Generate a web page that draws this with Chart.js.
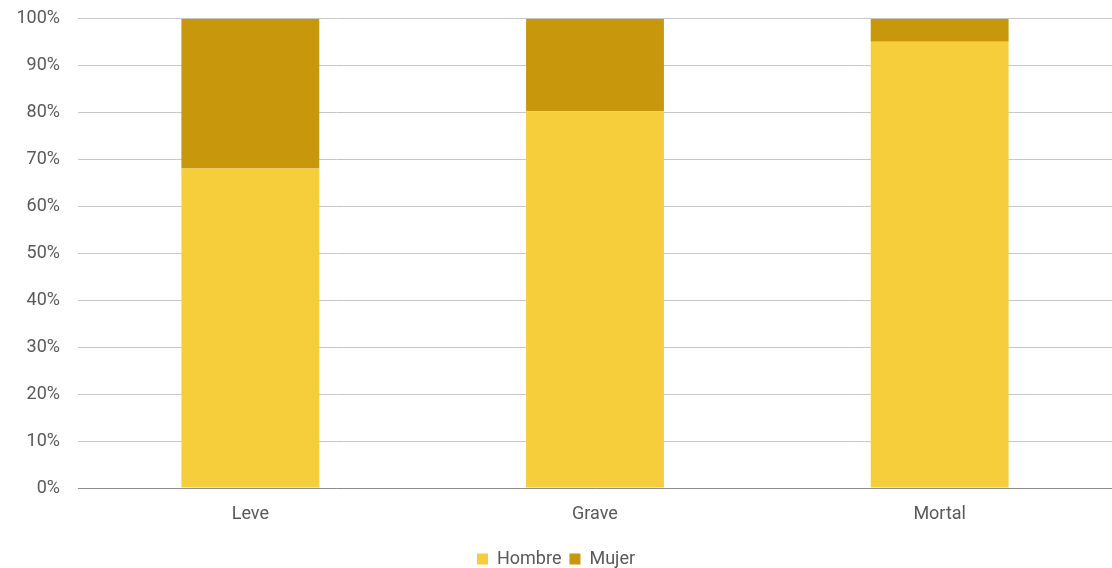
<!DOCTYPE html>
<html>
<head>
<meta charset="utf-8">
<script src="https://cdn.jsdelivr.net/npm/chart.js@4"></script>
<style>
  html, body { margin: 0; padding: 0; background: #fff; overflow: hidden; }
  #wrap { width: 1112px; height: 588px; position: relative; margin-top: -10px; }
</style>
</head>
<body>
<div id="wrap"><canvas id="graf"></canvas></div>
<script>
var categorias = ['Leve', 'Grave', 'Mortal'];
var hombre = [68.1, 80.3, 95.1];
var mujer = [31.9, 19.7, 4.9];
var ticksY = [0, 10, 20, 30, 40, 50, 60, 70, 80, 90, 100];

var gris = '#595959';
Chart.defaults.font.family = 'Roboto, "DejaVu Sans", sans-serif';
Chart.defaults.font.size = 18;
Chart.defaults.color = gris;

var ctx = document.getElementById('graf').getContext('2d');
var chart = new Chart(ctx, {
    type: 'bar',
    data: {
        labels: categorias,
        datasets: [{
            label: 'Hombre',
            backgroundColor: '#F6CE3B',
            data: hombre,
            barPercentage: 0.4,
            categoryPercentage: 1
        }, {
            label: 'Mujer',
            backgroundColor: '#C8970B',
            data: mujer,
            barPercentage: 0.4,
            categoryPercentage: 1
        }]
    },
    options: {
        responsive: true,
        maintainAspectRatio: false,
        animation: false,
        layout: { padding: 0 },
        plugins: {
            tooltip: { enabled: false },
            legend: {
                position: 'bottom',
                labels: {
                    boxWidth: 11,
                    boxHeight: 11,
                    padding: 8,
                    font: { size: 18 },
                    color: gris
                }
            }
        },
        scales: {
            x: {
                stacked: true,
                grid: { display: false, drawTicks: false },
                border: { color: '#8c8c8c', width: 1 },
                ticks: { padding: 16, font: { size: 18 } },
                afterFit: function (s) { s.height = 54; }
            },
            y: {
                stacked: true,
                min: 0,
                max: 100,
                afterBuildTicks: function (s) {
                    s.ticks = ticksY.map(function (v) { return { value: v }; });
                },
                grid: { color: '#c8c8c8', drawTicks: false },
                border: { display: false },
                ticks: {
                    padding: 18,
                    font: { size: 18 },
                    callback: function (v) { return v + '%'; }
                },
                afterFit: function (s) { s.width = 78; }
            }
        }
    }
});
</script>
</body>
</html>
